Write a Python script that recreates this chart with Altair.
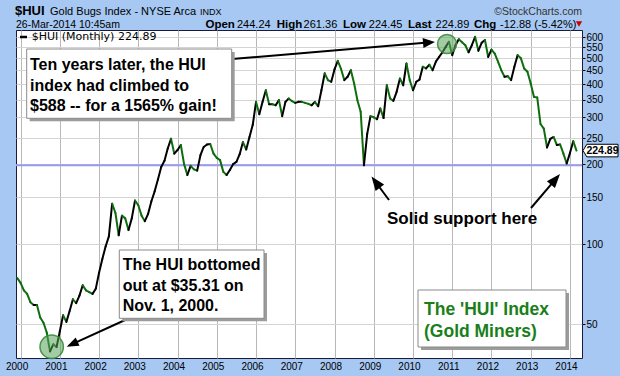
import math
import altair as alt
import pandas as pd

# ---------------- data ----------------
start_year, start_month = 1999, 12          # first monthly close shown: Dec 1999
hui_close = [
    74.5,                                                                   # 1999-12
    71.5, 67, 65, 60.5, 59, 59, 53, 50.6, 46.5, 39.5, 42, 41,               # 2000
    47, 54, 51, 56, 62, 60, 64, 70, 67, 66, 65, 68,                         # 2001
    78, 88, 98, 107, 142, 131, 108, 128, 125, 113, 125, 146,                # 2002
    140, 128, 122, 130, 145, 158, 175, 195, 206, 229, 249, 219,             # 2003
    226, 236, 200, 182, 197, 191, 189, 216, 232, 237, 238, 219,             # 2004
    211, 207, 187, 182, 190, 200, 204, 218, 242, 227, 253, 281,             # 2005
    343, 308, 343, 379, 336, 336, 333, 348, 303, 343, 353, 345,             # 2006
    340, 343, 343, 340, 337, 333, 343, 330, 379, 439, 414, 408,             # 2007
    454, 489, 456, 414, 426, 451, 402, 348, 315, 198, 260, 303,             # 2008
    300, 295, 324, 298, 396, 353, 346, 374, 420, 396, 478, 414,             # 2009
    379, 408, 416, 465, 458, 473, 451, 486, 506, 527, 552, 577,             # 2010
    514, 560, 590, 575, 560, 527, 560, 602, 534, 572, 586, 506,             # 2011
    539, 521, 486, 451, 426, 428, 414, 465, 514, 500, 458, 445,             # 2012
    402, 358, 356, 283, 272, 231, 249, 253, 236, 237, 219, 201,             # 2013
    220, 244, 224.89,                                                       # 2014
]
year_labels = list(range(2000, 2015))
y_tick_values = [50, 100, 150, 200, 250, 300, 350, 400, 450, 500, 550, 600]
support_level = [198]
last_value = [224.89]

# ---------------- build tables ----------------
t_vals = [start_year + (start_month - 1) / 12 + i / 12 for i in range(len(hui_close))]
rows = []
for i in range(1, len(hui_close)):
    d = "up" if hui_close[i] >= hui_close[i - 1] else "down"
    rows.append({"seg": i, "t": t_vals[i - 1], "v": hui_close[i - 1], "dir": d})
    rows.append({"seg": i, "t": t_vals[i], "v": hui_close[i], "dir": d})
seg_df = pd.DataFrame(rows)
one = pd.DataFrame({"a": [0]})

GREEN = "#0e6e0e"
FONT = "Liberation Sans"

xs = alt.Scale(domain=[1999.883, 2014.307], nice=False, zero=False)
ys = alt.Scale(type="log", domain=[37.3, 639], nice=False)

grid_vals = [year_labels[0] + 0.5 * i for i in range(2 * (len(year_labels) - 1) + 1)]
xaxis = alt.Axis(
    values=grid_vals, format="d",
    labelExpr="datum.value % 1 === 0 ? datum.label : ''",
    grid=True,
    gridColor={"condition": {"test": "datum.value % 1 === 0", "value": "#b8b8b8"}, "value": "#e0e0e0"},
    gridWidth=1, ticks=False, domain=False,
    labelFont=FONT, labelFontSize=10, labelColor="#000", labelPadding=3,
    labelOffset=-4, labelFlush=False, labelOverlap=False, title=None,
)
yaxis = alt.Axis(
    orient="right", values=y_tick_values, format="d", grid=True, gridColor="#d4d4d4",
    ticks=True, tickSize=3, tickColor="#000", domain=False,
    labelFont=FONT, labelFontSize=10, labelColor="#000", labelPadding=1,
    labelOverlap=False, title=None,
)

layers = []

# support line
layers.append(
    alt.Chart(pd.DataFrame({"v": support_level}))
    .mark_rule(color="#9a9af0", strokeWidth=2)
    .encode(y=alt.Y("v:Q", scale=ys, axis=yaxis))
)

# price line, black when rising, green when falling
layers.append(
    alt.Chart(seg_df)
    .mark_line(strokeWidth=2, strokeCap="round", strokeJoin="round")
    .encode(
        x=alt.X("t:Q", scale=xs, axis=xaxis),
        y=alt.Y("v:Q", scale=ys, axis=yaxis),
        detail="seg:N",
        order="t:Q",
        color=alt.Color("dir:N", scale=alt.Scale(domain=["up", "down"], range=["#000000", GREEN]), legend=None),
    )
)

# last value tag on the right axis
tag_path = "M-1,0L-0.78,-0.36L1,-0.36L1,0.36L-0.78,0.36Z"
layers.append(
    alt.Chart(pd.DataFrame({"v": last_value}))
    .mark_point(shape=tag_path, filled=True, fill="white", stroke="#000", strokeWidth=1,
                size=1225, opacity=1, fillOpacity=1)
    .encode(x=alt.value(584.5), y=alt.Y("v:Q", scale=ys, axis=yaxis))
)
layers.append(
    alt.Chart(pd.DataFrame({"v": last_value}))
    .mark_text(font=FONT, fontSize=10.5, fontWeight="bold", color="#000", align="center", baseline="middle")
    .encode(x=alt.value(586.5), y=alt.Y("v:Q", scale=ys, axis=yaxis), text=alt.Text("v:Q", format=".2f"))
)


def circle(cx, cy, size):
    return (alt.Chart(one)
            .mark_point(shape="circle", filled=True, fill="#5aa35a", fillOpacity=0.55,
                        stroke="#3b8a3b", strokeWidth=1.5, strokeOpacity=0.9, size=size, opacity=1)
            .encode(x=alt.value(cx), y=alt.value(cy)))


def arrow(x1, y1, x2, y2, L=12, hw=0.42):
    dx, dy = x2 - x1, y2 - y1
    d = math.hypot(dx, dy)
    ux, uy = dx / d, dy / d
    ex, ey = x2 - ux * L * 0.6, y2 - uy * L * 0.6
    ang = math.degrees(math.atan2(dx, -dy)) % 360
    shaft = (alt.Chart(one).mark_rule(color="#000", strokeWidth=2)
             .encode(x=alt.value(x1), y=alt.value(y1), x2=alt.value(ex), y2=alt.value(ey)))
    head = (alt.Chart(one)
            .mark_point(shape=f"M0,0L{-hw},1L{hw},1Z", filled=True, color="#000", opacity=1,
                        size=(2 * L) ** 2, angle=ang, strokeWidth=0)
            .encode(x=alt.value(x2), y=alt.value(y2)))
    return [shaft, head]


def box(x1, y1, x2, y2):
    shadow = (alt.Chart(one).mark_rect(fill="#9c9c9c", opacity=1)
              .encode(x=alt.value(x1 + 3), x2=alt.value(x2 + 3), y=alt.value(y1 + 3), y2=alt.value(y2 + 3)))
    main = (alt.Chart(one).mark_rect(fill="white", stroke="#8a8a8a", strokeWidth=1, opacity=1)
            .encode(x=alt.value(x1), x2=alt.value(x2), y=alt.value(y1), y2=alt.value(y2)))
    return [shadow, main]


def text(x, y, s, size=11, weight="normal", color="#000", font=FONT, align="left", baseline="alphabetic"):
    return (alt.Chart(one)
            .mark_text(text=s, font=font, fontSize=size, fontWeight=weight, color=color,
                       align=align, baseline=baseline)
            .encode(x=alt.value(x), y=alt.value(y)))


# circles
layers.append(circle(431, 14, 361))
layers.append(circle(35.7, 316.7, 548))

# arrows
layers += arrow(216, 29, 419, 12, L=12, hw=0.42)
layers += arrow(115.7, 287, 50.7, 316.7, L=12, hw=0.38)
layers += arrow(373, 170, 355.5, 146.5, L=14, hw=0.38)
layers += arrow(515, 178, 544, 144, L=14, hw=0.38)

# annotation boxes
layers += box(10.7, 19, 215.7, 88.3)
layers += box(103.3, 220, 248, 288.3)
layers += box(402, 260, 550, 317)

# annotation texts
for yy, s in zip([40, 60.5, 80.5], ["Ten years later, the HUI", "index had climbed to",
                                     "$588 -- for a 1565% gain!"]):
    layers.append(text(14, yy, s, size=16, weight="bold"))
for yy, s in zip([240, 260.5, 281], ["The HUI bottomed", "out at $35.31 on", "Nov. 1, 2000."]):
    layers.append(text(106.7, yy, s, size=16, weight="bold"))
for yy, s in zip([285, 307], ["The 'HUI' Index", "(Gold Miners)"]):
    layers.append(text(408, yy, s, size=17.5, weight="bold", color="#1a7f1a"))
layers.append(text(371, 194, "Solid support here", size=17, weight="bold"))

# legend inside plot
layers.append(alt.Chart(one).mark_rule(color="#000", strokeWidth=2.5)
              .encode(x=alt.value(4), x2=alt.value(11), y=alt.value(7)))
layers.append(text(15.7, 7, "$HUI (Monthly) 224.89", size=11, font="DejaVu Sans", baseline="middle"))

# header
layers.append(text(-1, -15, "$HUI", size=13, weight="bold"))
layers.append(text(34, -15, "Gold Bugs Index - NYSE Arca", size=11))
layers.append(text(184, -15, "INDX", size=9))
layers.append(text(566, -15, "\u00a9StockCharts.com", size=10.5, color="#333", align="right"))
layers.append(text(0, -2, "26-Mar-2014 10:45am", size=10.5))
hdr = [(189.5, "Open", True), (221, "244.24", False), (260.7, "High", True), (287.6, "261.36", False),
       (327, "Low", True), (352.8, "224.45", False), (392, "Last", True), (419.6, "224.89", False),
       (458, "Chg", True), (484, "-12.88 (-5.42%)", False)]
for xx, s, b in hdr:
    layers.append(text(xx, -2, s, size=11.5 if b else 11, weight="bold" if b else "normal"))
layers.append(alt.Chart(one).mark_point(shape="triangle-down", filled=True, color="#cc0000",
                                        size=40, opacity=1)
              .encode(x=alt.value(563), y=alt.value(-6)))

chart = (
    alt.layer(*layers)
    .properties(
        width=566, height=328,
        padding={"left": 16, "top": 30, "right": 38, "bottom": 18},
        autosize=alt.AutoSizeParams(type="none"),
        background="#a6c8f2",
    )
    .configure_view(fill="white", stroke="#1a1a3a", strokeWidth=1)
)

chart.save("out.html", embed_options={"renderer": "svg", "actions": False})
